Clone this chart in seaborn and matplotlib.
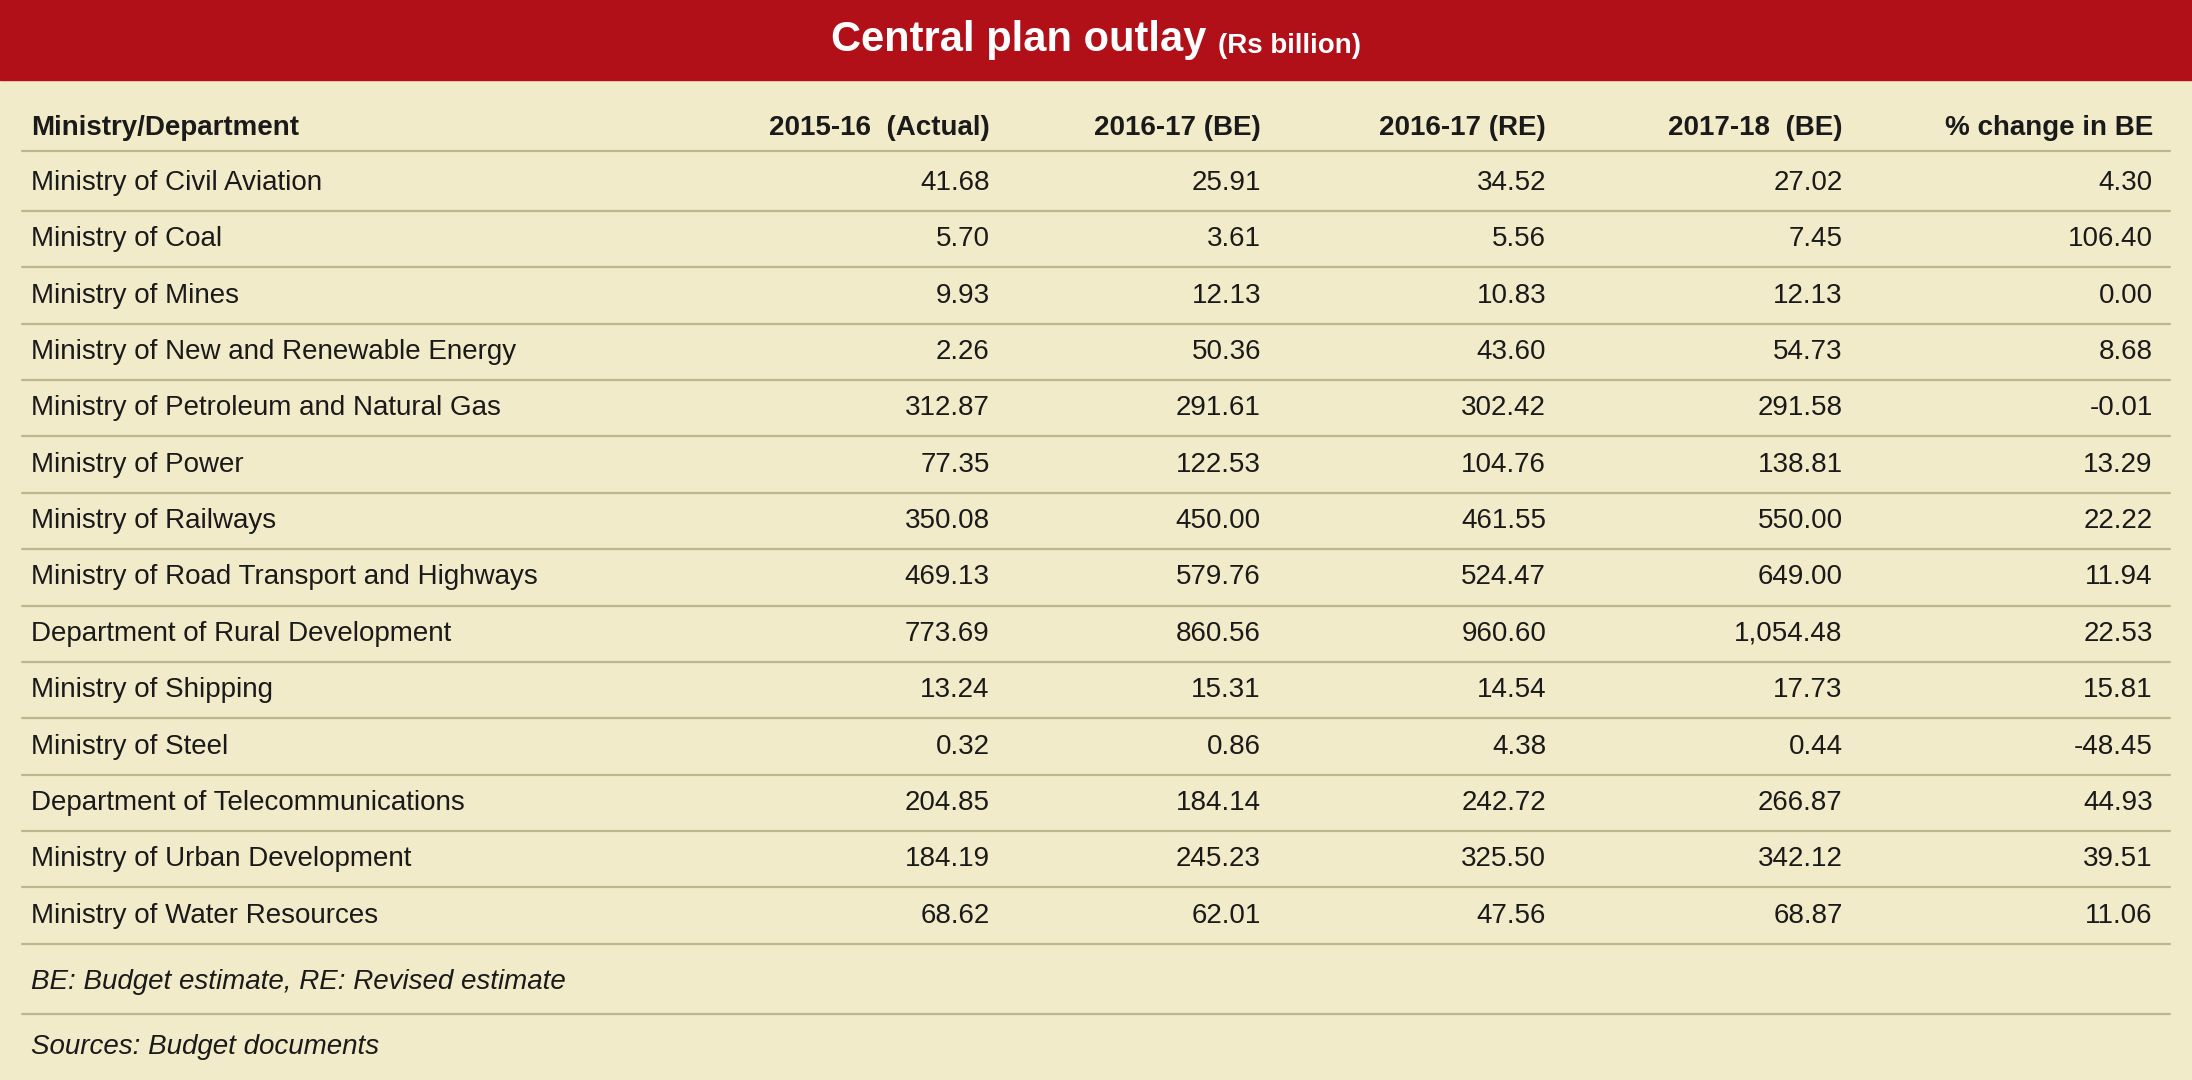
import matplotlib
matplotlib.use("Agg")
import matplotlib.pyplot as plt
import seaborn as sns

sns.set_theme(style="white")
plt.rcParams["font.family"] = ["Liberation Sans Narrow", "Liberation Sans", "DejaVu Sans"]

TITLE = "Central plan outlay"
UNIT = "(Rs billion)"
COLUMNS = ["Ministry/Department", "2015-16  (Actual)", "2016-17 (BE)",
           "2016-17 (RE)", "2017-18  (BE)", "% change in BE"]
MINISTRIES = [
    "Ministry of Civil Aviation", "Ministry of Coal", "Ministry of Mines",
    "Ministry of New and Renewable Energy", "Ministry of Petroleum and Natural Gas",
    "Ministry of Power", "Ministry of Railways", "Ministry of Road Transport and Highways",
    "Department of Rural Development", "Ministry of Shipping", "Ministry of Steel",
    "Department of Telecommunications", "Ministry of Urban Development",
    "Ministry of Water Resources",
]
ACTUAL_1516 = ["41.68", "5.70", "9.93", "2.26", "312.87", "77.35", "350.08", "469.13",
               "773.69", "13.24", "0.32", "204.85", "184.19", "68.62"]
BE_1617 = ["25.91", "3.61", "12.13", "50.36", "291.61", "122.53", "450.00", "579.76",
           "860.56", "15.31", "0.86", "184.14", "245.23", "62.01"]
RE_1617 = ["34.52", "5.56", "10.83", "43.60", "302.42", "104.76", "461.55", "524.47",
           "960.60", "14.54", "4.38", "242.72", "325.50", "47.56"]
BE_1718 = ["27.02", "7.45", "12.13", "54.73", "291.58", "138.81", "550.00", "649.00",
           "1,054.48", "17.73", "0.44", "266.87", "342.12", "68.87"]
PCT_CHANGE = ["4.30", "106.40", "0.00", "8.68", "-0.01", "13.29", "22.22", "11.94",
              "22.53", "15.81", "-48.45", "44.93", "39.51", "11.06"]
NOTES = ["BE: Budget estimate, RE: Revised estimate", "Sources: Budget documents"]

BG = "#F1EBC9"
RED = "#B11019"
LINE = "#BDB78E"
TXT = "#1A1A1A"
FS = 20

W, H = 1568, 774
fig = plt.figure(figsize=(21.92, 10.8), dpi=100, facecolor=BG)
ax = fig.add_axes([0, 0, 1, 1])
ax.set_xlim(0, W)
ax.set_ylim(H, 0)
ax.axis("off")

# red title bar, title + unit centred together
ax.add_patch(plt.Rectangle((0, 0), W, 57, color=RED, zorder=1))
t = ax.text(784, 29, TITLE + " ", ha="right", va="center", color="white",
            fontsize=30, fontweight="bold", zorder=2)
u = ax.text(784, 33, UNIT, ha="left", va="center", color="white", fontsize=20,
            fontweight="bold", zorder=2)
fig.canvas.draw()
inv = ax.transData.inverted()
tb = t.get_window_extent().transformed(inv)
ub = u.get_window_extent().transformed(inv)
shift = ((tb.x1 - tb.x0) - (ub.x1 - ub.x0)) / 2
t.set_x(784 + shift)
u.set_x(784 + shift)

col_x = [22, 708, 902, 1106, 1318, 1540]
header_y = 92
ax.text(col_x[0], header_y, COLUMNS[0], ha="left", va="center", fontsize=FS,
        fontweight="bold", color=TXT)
for x, c in zip(col_x[1:], COLUMNS[1:]):
    ax.text(x, header_y, c, ha="right", va="center", fontsize=FS,
            fontweight="bold", color=TXT)
ax.plot([16, 1552], [108, 108], color=LINE, lw=1.6)

step = 40.4
cols = [ACTUAL_1516, BE_1617, RE_1617, BE_1718, PCT_CHANGE]
for i, name in enumerate(MINISTRIES):
    y = 131 + i * step
    ax.text(col_x[0], y, name, ha="left", va="center", fontsize=FS, color=TXT)
    for x, vals in zip(col_x[1:], cols):
        ax.text(x, y, vals[i], ha="right", va="center", fontsize=FS, color=TXT)
    ax.plot([16, 1552], [y + step / 2, y + step / 2], color=LINE, lw=1.6)

ax.text(col_x[0], 704, NOTES[0], ha="left", va="center", fontsize=FS,
        style="italic", color=TXT)
ax.plot([16, 1552], [727, 727], color=LINE, lw=1.6)
ax.text(col_x[0], 750, NOTES[1], ha="left", va="center", fontsize=FS,
        style="italic", color=TXT)

fig.savefig("out.png", dpi=100, facecolor=BG)
